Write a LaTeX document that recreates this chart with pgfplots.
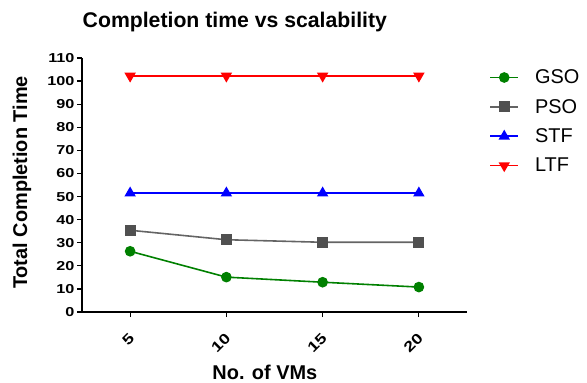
\documentclass[border=0pt]{standalone}
\usepackage{pgfplots}
\pgfplotsset{compat=1.18}
\usepackage{fontspec}
\setmainfont{Liberation Sans}
\newfontfamily\tickfont{Liberation Sans}[FakeStretch=1.25]
\definecolor{gsog}{RGB}{0,128,0}
\definecolor{psog}{RGB}{100,100,100}
\begin{document}
\begin{tikzpicture}[x=1bp,y=1bp]
\useasboundingbox (0,0) rectangle (587,382);
\begin{axis}[
  at={(82bp,70bp)}, anchor=south west,
  scale only axis, width=385bp, height=254bp,
  xmin=2.5, xmax=22.5, ymin=0, ymax=110,
  xtick={5,10,15,20}, ytick={0,10,...,110},
  axis x line*=bottom, axis y line*=left,
  axis line style={line width=1.5pt,-},
  tick style={line width=1.2pt,black},
  tick align=outside, major tick length=5bp,
  /pgf/number format/assume math mode=true,
  ticklabel style={font=\tickfont\fontsize{13}{13}\selectfont\bfseries},
  x tick label style={font=\tickfont\fontsize{14.5}{14.5}\selectfont\bfseries, xshift=4bp, yshift=-16bp, rotate=45, anchor=east},
  y tick label style={xshift=1bp},
  title={\fontsize{21.3}{21.3}\selectfont\bfseries Completion time vs scalability},
  title style={at={(0.397,1)}, anchor=center, yshift=30bp},
  xlabel={\fontsize{20}{20}\selectfont\bfseries No. of VMs},
  ylabel={\fontsize{20}{20}\selectfont\bfseries Total Completion Time},
  xlabel style={at={(0.475,0)}, anchor=center, yshift=-60bp},
  ylabel style={at={(0,0.51)}, anchor=center, yshift=60bp},
  legend style={draw=none, fill=none, at={(1.05,0.97)}, anchor=north west,
    font=\fontsize{20}{20}\selectfont, row sep=10bp},
  legend cell align=left,
  legend image code/.code={\draw[#1, mark repeat=2, mark phase=2] plot coordinates {(0bp,0bp) (14bp,0bp) (28bp,0bp)}; \path (42bp,0bp);},
  clip=false,
]
\addplot[gsog, line width=1.6pt, mark=*, mark size=4.5bp, mark options={solid, fill=gsog}] coordinates {(5,26.3) (10,15.1) (15,12.9) (20,10.8)};
\addlegendentry{GSO}
\addplot[psog, line width=1.6pt, mark=square*, mark size=4.8bp, mark options={fill=psog!80!black, draw=psog!80!black}] coordinates {(5,35.4) (10,31.3) (15,30.2) (20,30.2)};
\addlegendentry{PSO}
\addplot[blue, line width=1.6pt, mark=triangle*, mark size=5bp, mark options={fill=blue}] coordinates {(5,51.5) (10,51.5) (15,51.5) (20,51.5)};
\addlegendentry{STF}
\addplot[red, line width=1.6pt, mark=triangle*, mark size=5bp, mark options={fill=red, rotate=180}] coordinates {(5,102.2) (10,102.2) (15,102.2) (20,102.2)};
\addlegendentry{LTF}
\end{axis}
\end{tikzpicture}
\end{document}
